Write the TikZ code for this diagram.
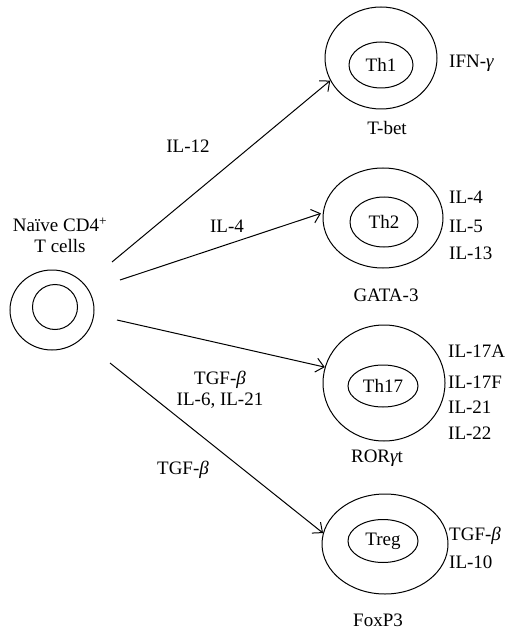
\documentclass[tikz,border=0pt]{standalone}
\usepackage{fontspec}
\setmainfont{Liberation Serif}
\usetikzlibrary{shapes.geometric,arrows.meta}
\begin{document}
\begin{tikzpicture}[x=1pt,y=-1pt,
  cell/.style={draw,ellipse,line width=1pt,inner sep=0pt},
  lbl/.style={font=\fontsize{19}{21}\selectfont,inner sep=0pt},
  arr/.style={line width=1pt,-{Straight Barb[length=8pt,width=14pt,line width=1pt]}}]
\useasboundingbox (0,0) rectangle (509,631);
% naive cell
\node[cell,minimum width=84pt,minimum height=80pt] (n0) at (52,310) {};
\node[cell,minimum width=45pt,minimum height=45pt] (n1) at (55,307) {};
\node[lbl,align=center] (nl) at (60,235) {Naïve CD4\textsuperscript{+}\\T cells};
% Th1
\node[cell,minimum width=112pt,minimum height=102pt] (th1) at (381,58) {};
\node[cell,minimum width=64pt,minimum height=46pt,lbl] (th1i) at (381,65) {Th1};
\node[lbl,anchor=west] (ifn) at (449,63) {IFN-{\itshape γ}};
\node[lbl] (tbet) at (387,128) {T-bet};
% Th2
\node[cell,minimum width=120pt,minimum height=100pt] (th2) at (383,218) {};
\node[cell,minimum width=68pt,minimum height=50pt,lbl] (th2i) at (384,222) {Th2};
\node[lbl,anchor=west] (il4) at (449,197) {IL-4};
\node[lbl,anchor=west] (il5) at (449,226) {IL-5};
\node[lbl,anchor=west] (il13) at (449,253) {IL-13};
\node[lbl] (gata) at (386,295) {GATA-3};
% Th17
\node[cell,minimum width=122pt,minimum height=116pt] (th17) at (384,383) {};
\node[cell,minimum width=70pt,minimum height=42pt,lbl] (th17i) at (383,386) {Th17};
\node[lbl,anchor=west] (il17a) at (448,351) {IL-17A};
\node[lbl,anchor=west] (il17f) at (448,382) {IL-17F};
\node[lbl,anchor=west] (il21) at (448,407) {IL-21};
\node[lbl,anchor=west] (il22) at (448,433) {IL-22};
\node[lbl] (ror) at (377,458) {ROR{\itshape γ}t};
% Treg
\node[cell,minimum width=126pt,minimum height=100pt] (treg) at (385,544) {};
\node[cell,minimum width=70pt,minimum height=43pt,lbl] (tregi) at (383,541) {Treg};
\node[lbl,anchor=west] (tgfr) at (449,536) {TGF-{\itshape β}};
\node[lbl,anchor=west] (il10) at (449,562) {IL-10};
\node[lbl] (foxp) at (378,620) {FoxP3};
% arrows
\coordinate (s1) at (112,262);
\coordinate (s2) at (120,280);
\coordinate (s3) at (117,320);
\coordinate (s4) at (110,363);
\draw[arr] (s1) -- (th1.204);
\draw[arr,shorten >=2pt] (s2) -- (th2.175);
\draw[arr] (s3) -- (th17.165);
\draw[arr] (s4) -- (treg.170);
% arrow labels
\node[lbl] (l12) at (188,146) {IL-12};
\node[lbl] (l4) at (227,226) {IL-4};
\node[lbl,align=center] (l17) at (220,390) {TGF-{\itshape β}\\IL-6, IL-21};
\node[lbl] (ltreg) at (183,470) {TGF-{\itshape β}};
\end{tikzpicture}
\end{document}
